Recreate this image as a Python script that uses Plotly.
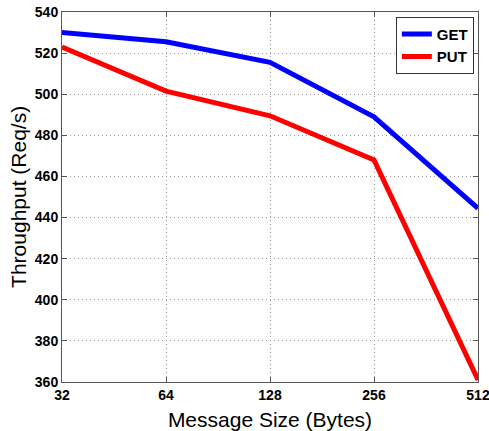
import plotly.graph_objects as go

sizes = [32, 64, 128, 256, 512]
size_labels = ["32", "64", "128", "256", "512"]
get_vals = [530, 525.5, 515.5, 489, 444.5]
put_vals = [523, 501.5, 489.5, 468, 361]
y_ticks = [360, 380, 400, 420, 440, 460, 480, 500, 520, 540]

fig = go.Figure()
fig.add_trace(go.Scatter(x=sizes, y=get_vals, mode="lines", name="<b>GET</b>",
                         line=dict(color="#0000ff", width=5)))
fig.add_trace(go.Scatter(x=sizes, y=put_vals, mode="lines", name="<b>PUT</b>",
                         line=dict(color="#ff0000", width=5)))

axis_common = dict(
    showline=True, linecolor="#555555", linewidth=1, mirror="ticks",
    ticks="inside", ticklen=5, tickcolor="#555555",
    showgrid=True, gridcolor="#999999", griddash="1px,3px", gridwidth=1,
    zeroline=False, automargin=False, ticklabeloverflow="allow",
    tickfont=dict(family="Liberation Sans, Arial", size=14, color="black", weight="bold"),
)

title_font = dict(family="Liberation Sans, Arial", size=21, color="black")

fig.update_layout(
    width=489, height=431,
    margin=dict(l=62, r=11, t=12, b=49),
    paper_bgcolor="white", plot_bgcolor="white",
    xaxis=dict(type="log", tickvals=sizes, ticktext=size_labels,
               title=dict(text="Message Size (Bytes)", font=title_font),
               **axis_common),
    yaxis=dict(range=[360, 540], tickvals=y_ticks, **axis_common),
    legend=dict(x=0.99, y=0.987, xanchor="right", yanchor="top",
                bgcolor="white", bordercolor="#333333", borderwidth=1,
                font=dict(family="Liberation Sans, Arial", size=15, color="black"),
                tracegroupgap=0, itemwidth=30),
    showlegend=True,
    annotations=[dict(text="Throughput (Req/s)", textangle=-90, showarrow=False,
                      xref="paper", yref="paper", x=-0.106, y=0.5,
                      xanchor="center", yanchor="middle", font=title_font)],
)
fig.update_xaxes(range=[5 * 0.30103, 9 * 0.30103])

fig.write_html("out.html", config={"displayModeBar": False},
               post_script="document.body.style.margin='0';")
